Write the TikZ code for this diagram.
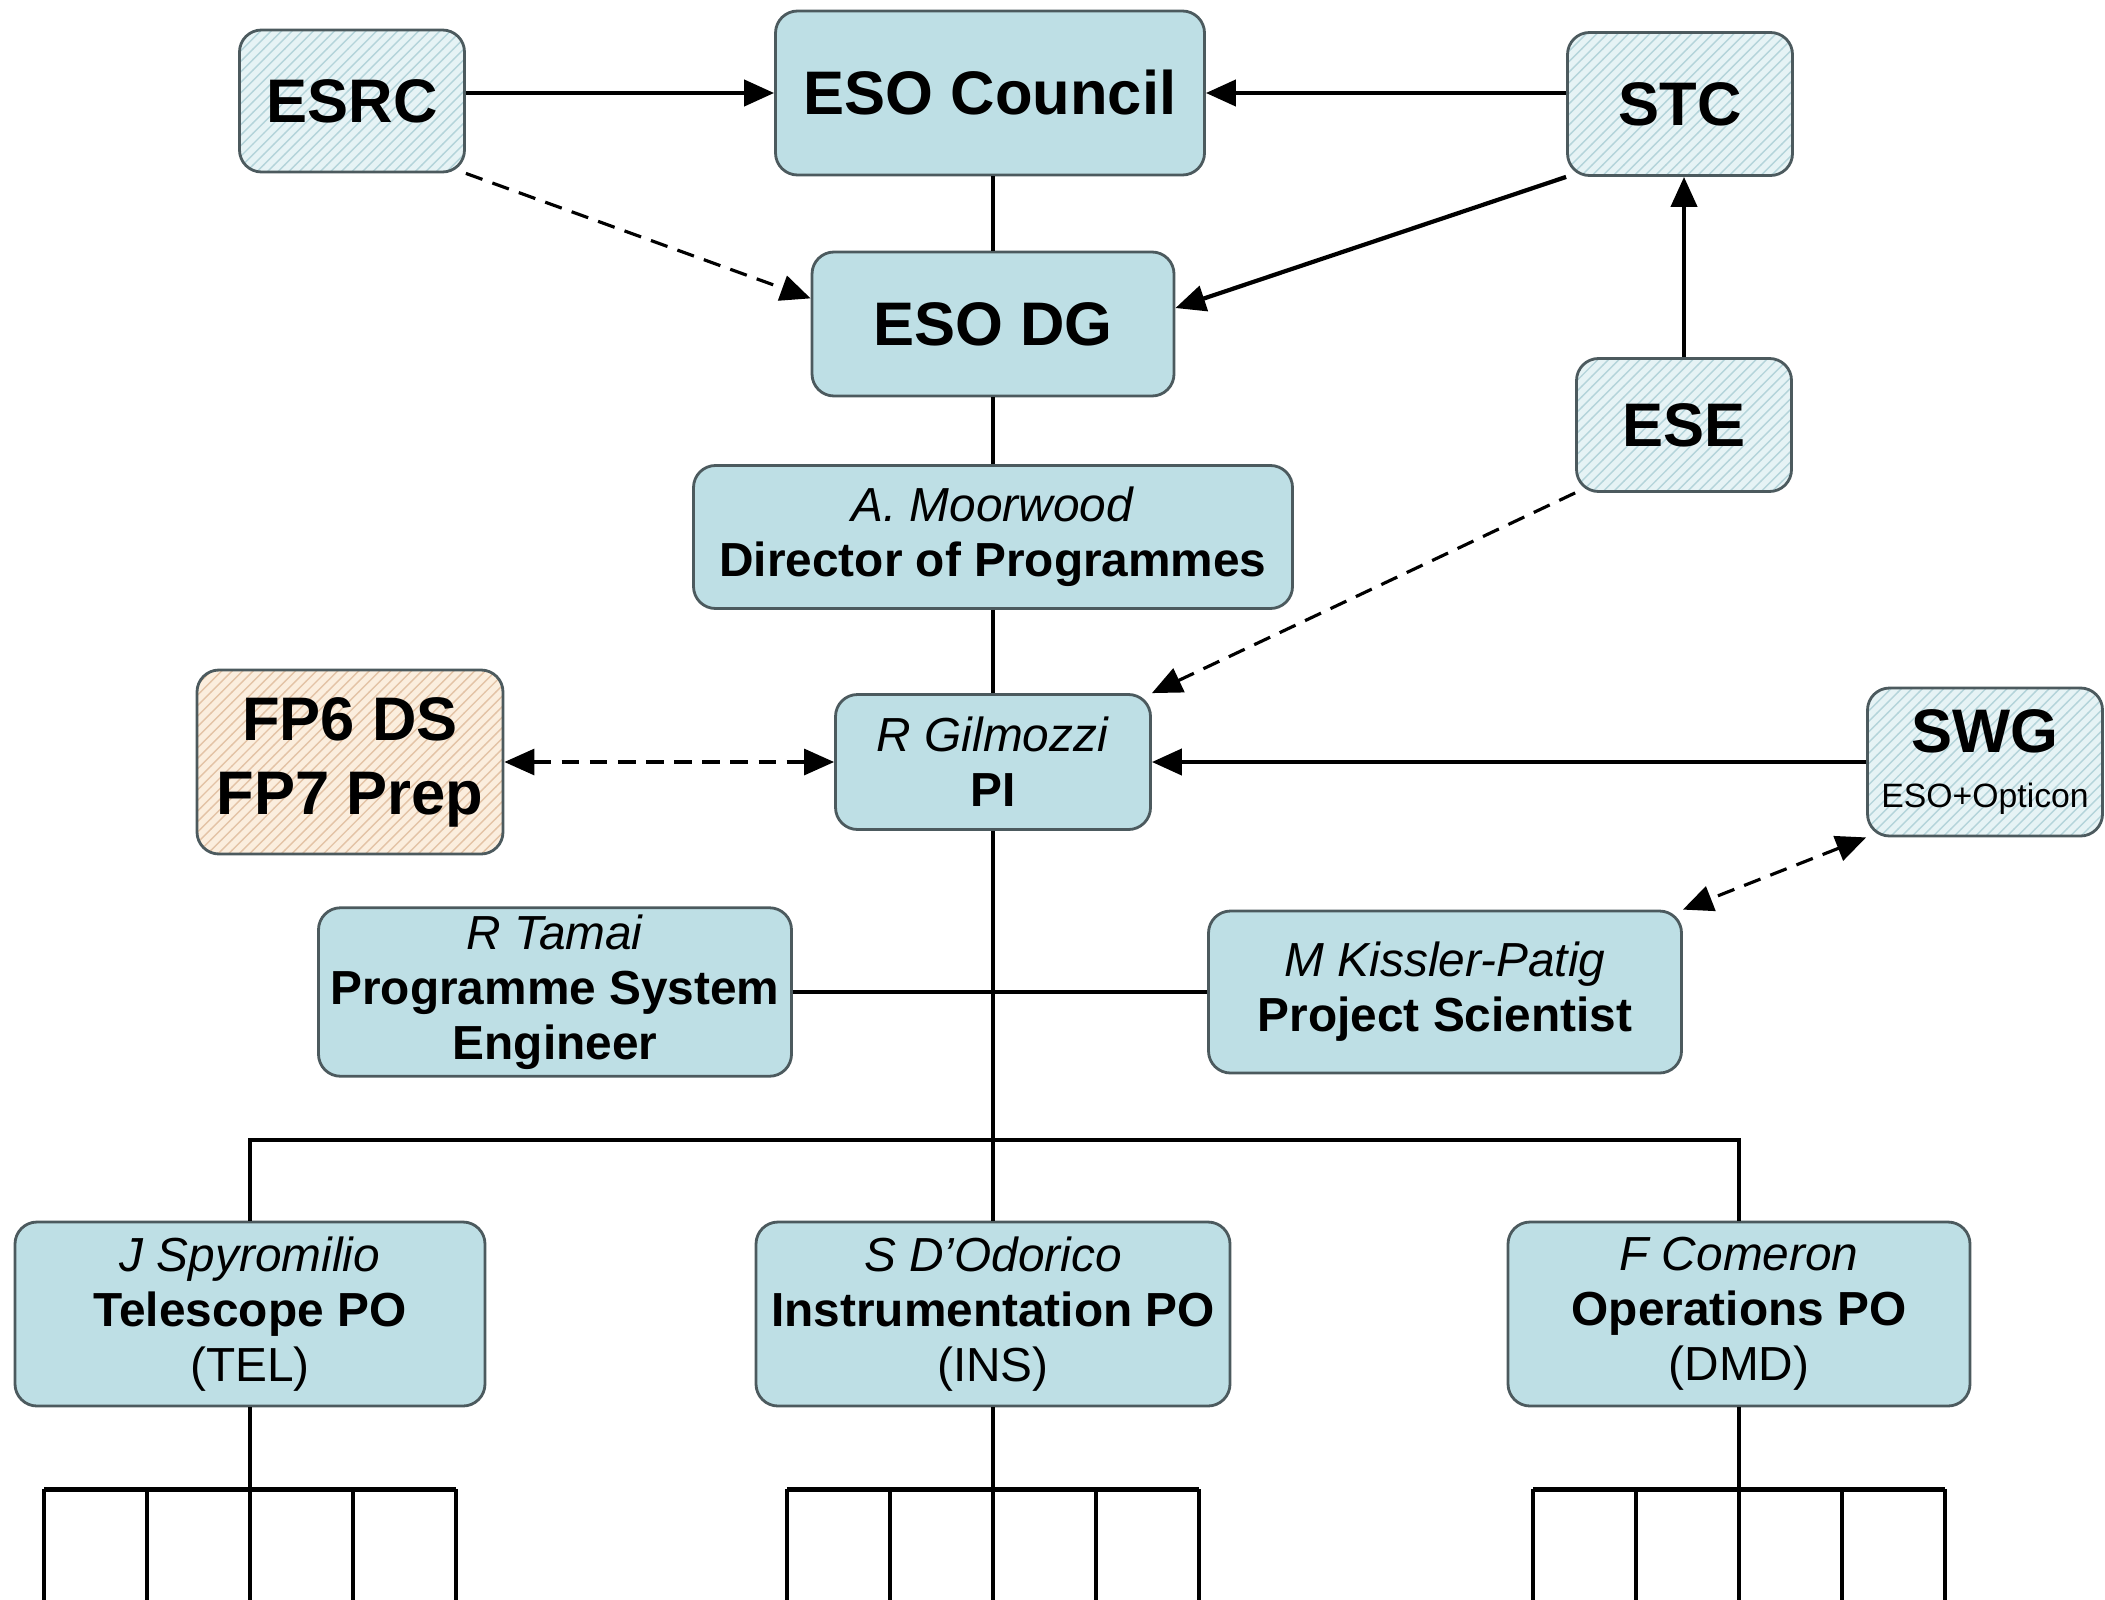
\documentclass[tikz,border=0pt]{standalone}
\usepackage{fontspec}
\setmainfont{Liberation Sans}
\usepackage{tikz}
\usetikzlibrary{arrows.meta,patterns}
\definecolor{boxfill}{HTML}{BEDFE5}
\definecolor{boxline}{HTML}{4C5A5E}
\definecolor{hatchfill}{HTML}{E6F3F5}
\definecolor{hatchline}{HTML}{B4D4DA}
\definecolor{fpfill}{HTML}{FBEEDE}
\definecolor{fpline}{HTML}{E3C3A6}
\tikzset{%
  every box/.style={
    rectangle,
    rounded corners=0.22cm,
    draw=boxline,
    line width=0.8pt,
    fill=boxfill,
    align=center,
    inner sep=2pt,
    font=\fontsize{13.6}{15.6}\selectfont
  },
  hatched box/.style={
    every box,
    preaction={fill=hatchfill},
    pattern=north east lines,
    pattern color=hatchline
  },
  fp box/.style={
    every box,
    preaction={fill=fpfill},
    pattern=north east lines,
    pattern color=fpline
  },
  big/.style={font=\fontsize{17.5}{21}\selectfont\bfseries},
  link/.style={line width=1.2pt},
  dashlink/.style={line width=0.9pt, dashed, dash pattern=on 5pt off 3pt},
}

\begin{document}
\begin{tikzpicture}[> = {Triangle[length=3mm,width=2.6mm]}]
\useasboundingbox (0,0) rectangle (21.05,-15.99);
    % top level
    \node[hatched box, big, minimum width=2.25cm, minimum height=1.42cm] (esrc) at (3.52,-1.01) {ESRC};
    \node[every box, big, minimum width=4.29cm, minimum height=1.64cm] (council) at (9.90,-0.93) {ESO Council};
    \node[hatched box, big, minimum width=2.25cm, minimum height=1.43cm] (stc) at (16.80,-1.04) {STC};
    \node[every box, big, minimum width=3.62cm, minimum height=1.44cm] (dg) at (9.93,-3.24) {ESO DG};
    \node[hatched box, big, minimum width=2.15cm, minimum height=1.33cm] (ese) at (16.84,-4.25) {ESE};
    \node[every box, minimum width=5.99cm, minimum height=1.43cm] (dop) at (9.93,-5.37) {\textit{A. Moorwood}\\\textbf{Director of Programmes}};
    % programme level
    \node[fp box, big, minimum width=3.06cm, minimum height=1.84cm] (fp) at (3.50,-7.62) {FP6 DS\\FP7 Prep};
    \node[every box, minimum width=3.15cm, minimum height=1.35cm] (pi) at (9.93,-7.62) {\textit{R Gilmozzi}\\\textbf{PI}};
    \node[hatched box, minimum width=2.35cm, minimum height=1.48cm] (swg) at (19.85,-7.62) {{\fontsize{17.5}{19}\selectfont\bfseries SWG}\\{\fontsize{9.6}{11}\selectfont ESO+Opticon}};
    \node[every box, minimum width=4.73cm, minimum height=1.64cm] (pse) at (5.55,-9.92) {\textit{R Tamai}\\\textbf{Programme System}\\\textbf{Engineer}};
    \node[every box, minimum width=4.73cm, minimum height=1.62cm] (ps) at (14.45,-9.92) {\textit{M Kissler-Patig}\\\textbf{Project Scientist}};
    % project offices
    \node[every box, minimum width=4.70cm, minimum height=1.84cm] (tel) at (2.50,-13.14) {\textit{J Spyromilio}\\\textbf{Telescope PO}\\(TEL)};
    \node[every box, minimum width=4.74cm, minimum height=1.84cm] (ins) at (9.93,-13.14) {\textit{S D'Odorico}\\\textbf{Instrumentation PO}\\(INS)};
    \node[every box, minimum width=4.62cm, minimum height=1.84cm] (ops) at (17.39,-13.14) {\textit{F Comeron}\\\textbf{Operations PO}\\(DMD)};
    \coordinate (bus) at (9.93,-11.40);

    % spine
    \draw[link] (council.south -| dg.north) -- (dg.north);
    \draw[link] (dg.south) -- (dop.north);
    \draw[link] (dop.south) -- (pi.north);
    \draw[link] (pi.south) -- (ins.north);
    \draw[link] (pse.east) -- (ps.west);
    \draw[link] (tel.north) -- (tel.north |- bus) -- (ops.north |- bus) -- (ops.north);

    % reporting lines
    \draw[link, ->] (esrc.east |- council.west) -- (council.west);
    \draw[link, ->] (stc.west |- council.east) -- (council.east);
    \draw[link, ->] (stc.south west) -- (dg.5);
    \draw[link, ->] (ese.north) -- (stc.south -| ese.north);
    \draw[link, ->] (swg.west) -- (pi.east);
    \draw[dashlink, ->] (esrc.south east) -- (dg.172);
    \draw[dashlink, ->] (ese.south west) -- (pi.north east);
    \draw[dashlink, <->] (fp.east) -- (pi.west);
    \draw[dashlink, <->] (swg.south west) -- (ps.north east);

    % groups below the project offices
    \foreach \po in {tel,ins,ops}{
        \draw[link] (\po.south) -- ([yshift=-1.93cm]\po.south);
        \draw[link] ([xshift=-2.06cm,yshift=-0.82cm]\po.south) -- ([xshift=2.06cm,yshift=-0.82cm]\po.south);
        \foreach \x in {-2.06,-1.03,1.03,2.06}
            \draw[link] ([xshift=\x cm,yshift=-0.82cm]\po.south) -- ++(0,-1.11);
    }
\end{tikzpicture}
\end{document}
